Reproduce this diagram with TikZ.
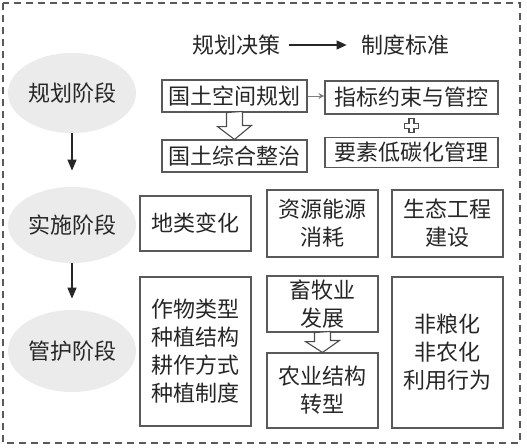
\documentclass[tikz,border=0pt]{standalone}
\usepackage{fontspec}
\setmainfont{Noto Sans CJK SC}
\usetikzlibrary{arrows.meta}
\usetikzlibrary{shapes.geometric}
\usetikzlibrary{calc}

\begin{document}
\begin{tikzpicture}
[x=1pt,y=-1pt,thick,%
  every node/.style={inner sep=0pt,text=black!85,font=\fontsize{22}{28}\selectfont},%
  kuang/.style={draw=black!65,line width=1.1pt,align=center,minimum width=111pt},%
  jieduan/.style={ellipse,fill=black!8,minimum width=128pt},%
  kong/.style={draw=black!70,line width=1.1pt,fill=white,line join=miter}]
\useasboundingbox (0,0) rectangle (527,447);
\draw[black!65,line width=1.2pt,dash pattern=on 7pt off 5pt] (3,3) rectangle (520,443);
\node (juece) at (236,45) {规划决策};
\node (biaozhun) at (405,45) {制度标准};
\draw[-{Triangle[length=10pt,width=9pt]},black!85,line width=1.2pt,shorten <=9pt,shorten >=14pt] (juece) -- (biaozhun);
\node[jieduan,minimum height=80pt] (guihua) at (72,93) {规划阶段};
\node[jieduan,minimum height=76pt] (shishi) at (72,225) {实施阶段};
\node[jieduan,minimum height=82pt] (guanhu) at (72,351) {管护阶段};
\draw[-{Triangle[length=11pt,width=9pt]},black!85,line width=1.2pt,shorten >=16pt] (guihua) -- (shishi);
\draw[-{Triangle[length=11pt,width=9pt]},black!85,line width=1.2pt,shorten >=11pt] (shishi) -- (guanhu);
\node[kuang,minimum width=145pt,minimum height=32pt] (kongjian) at (234.5,96) {国土空间规划};
\node[kuang,minimum width=173pt,minimum height=33pt] (zhibiao) at (411.5,97.5) {指标约束与管控};
\node[kuang,minimum width=145pt,minimum height=32pt] (zhengzhi) at (234.5,156) {国土综合整治};
\node[kuang,minimum width=173pt,minimum height=30pt] (yaosu) at (411.5,152.5) {要素低碳化管理};
\draw[-{Stealth[length=6pt,width=6pt]},black!50,line width=1pt] (kongjian.east) -- (kongjian.east -| zhibiao.west);
\draw[kong] (kongjian.south) ++(-8,0) -- ++(0,14) -- ++(-9,0) -- (zhengzhi.north) -- ++(17,-14) -- ++(-9,0) -- ++(0,-14) -- cycle;
\draw[kong] ($(zhibiao.south)!.5!(yaosu.north)$) ++(-2.5,-7) -- ++(5,0) -- ++(0,4.5) -- ++(4.5,0) -- ++(0,5) -- ++(-4.5,0)
  -- ++(0,4.5) -- ++(-5,0) -- ++(0,-4.5) -- ++(-4.5,0) -- ++(0,-5) -- ++(4.5,0) -- cycle;
\node[kuang,minimum height=55pt] (dilei) at (195.5,223.5) {地类变化};
\node[kuang,minimum height=67pt] (ziyuan) at (322.5,223.5) {资源能源\\消耗};
\node[kuang,minimum height=67pt] (shengtai) at (447.5,223.5) {生态工程\\建设};
\node[kuang,minimum height=149pt] (zuowu) at (195.5,351.5) {作物类型\\种植结构\\耕作方式\\种植制度};
\node[kuang,minimum height=56pt] (xumu) at (322.5,304) {畜牧业\\发展};
\node[kuang,minimum height=75pt] (nongye) at (322.5,390.5) {农业结构\\转型};
\node[kuang,minimum height=151pt] (feiliang) at (447.5,352.5) {非粮化\\非农化\\利用行为};
\draw[kong] (xumu.south) ++(-8,0) -- ++(0,9) -- ++(-9,0) -- (nongye.north) -- ++(17,-12) -- ++(-9,0) -- ++(0,-9) -- cycle;
\end{tikzpicture}
\end{document}
